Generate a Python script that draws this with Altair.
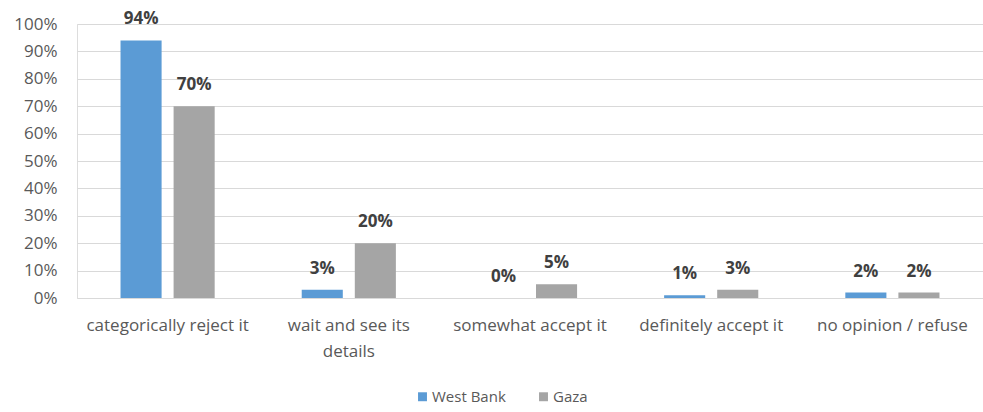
import altair as alt
import pandas as pd

categories = ["categorically reject it", "wait and see its details", "somewhat accept it",
              "definitely accept it", "no opinion / refuse"]
series = ["West Bank", "Gaza"]
west_bank = [94, 3, 0, 1, 2]
gaza = [70, 20, 5, 3, 2]
colors = ["#5B9BD5", "#A5A5A5"]

rows = []
for c, w, g in zip(categories, west_bank, gaza):
    rows.append({"category": c, "series": "West Bank", "value": w / 100, "label": f"{w}%"})
    rows.append({"category": c, "series": "Gaza", "value": g / 100, "label": f"{g}%"})
df = pd.DataFrame(rows)

FONT = "Open Sans"
x = alt.X("category:N", sort=categories, title=None,
          scale=alt.Scale(paddingInner=0, paddingOuter=0),
          axis=alt.Axis(labelAngle=0, labelFontSize=17, labelColor="#595959", labelFont=FONT,
                        ticks=False, domain=False, labelPadding=19, labelLimit=300,
                        labelLineHeight=26,
                        labelExpr="datum.value == 'wait and see its details' ? ['wait and see its', 'details'] : datum.value"))
xoff = alt.XOffset("series:N", sort=series,
                   scale=alt.Scale(paddingInner=0.226, paddingOuter=0.82))
y = alt.Y("value:Q", title=None,
          scale=alt.Scale(domain=[0, 1], nice=False),
          axis=alt.Axis(format=".0%", values=[i / 10 for i in range(11)], labelFontSize=17,
                        labelColor="#595959", labelFont=FONT, ticks=False, domain=False,
                        labelPadding=20, gridColor="#D9D9D9", gridWidth=1))

bars = alt.Chart(df).mark_bar().encode(
    x=x, xOffset=xoff, y=y,
    color=alt.Color("series:N", sort=series,
                    scale=alt.Scale(domain=series, range=colors),
                    legend=alt.Legend(title=None, orient="none", direction="horizontal",
                                      legendX=338, legendY=365, symbolType="square",
                                      symbolSize=80, symbolStrokeWidth=0,
                                      labelFontSize=15, labelColor="#595959", labelFont=FONT,
                                      columnPadding=30, labelOffset=2))
)

text = alt.Chart(df).mark_text(fontSize=17, fontWeight="bold", color="#404040", font=FONT,
                               baseline="middle", dy=-21).encode(
    x=x, xOffset=xoff, y=y, text="label:N"
)

chart = (bars + text).properties(
    width=906, height=274,
    autosize=alt.AutoSizeParams(type="none"),
    padding={"left": 77, "top": 24, "right": 0, "bottom": 114},
).configure_view(stroke=None).configure(background="white")

chart.save("out.html", embed_options={"renderer": "svg", "actions": False})
